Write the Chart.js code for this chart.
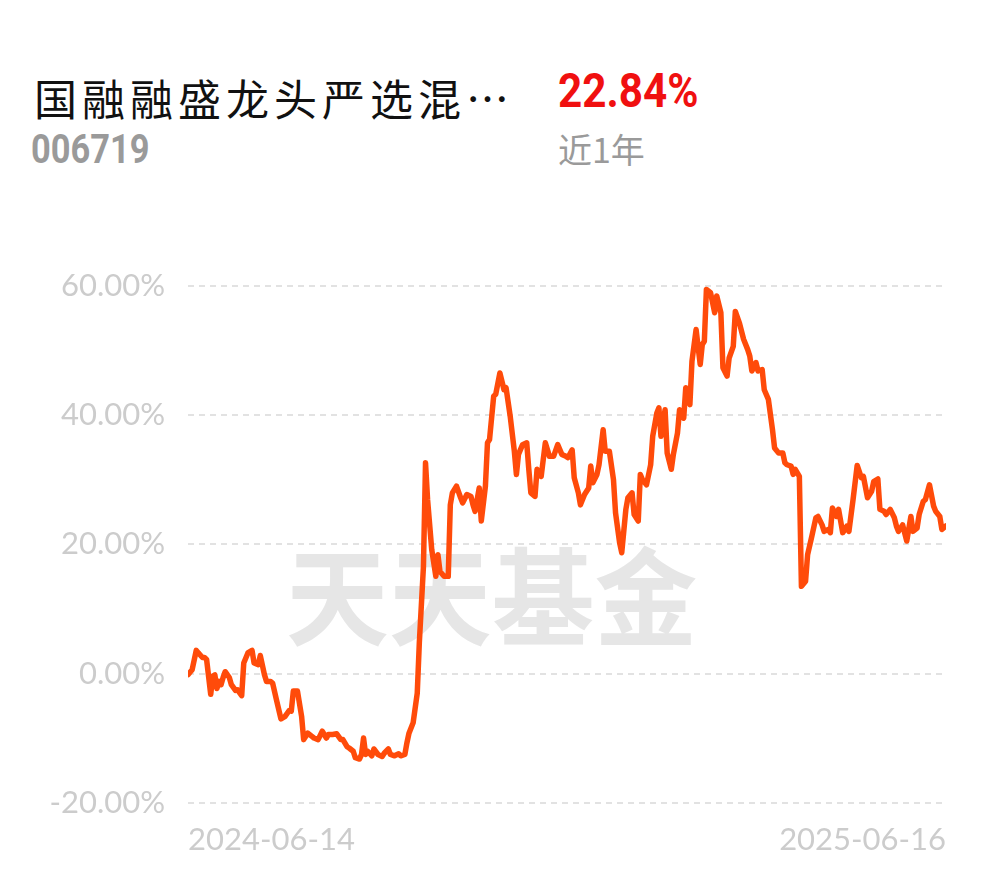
<!DOCTYPE html>
<html>
<head>
<meta charset="utf-8">
<script src="https://cdn.jsdelivr.net/npm/chart.js@4/dist/chart.umd.min.js"></script>
<style>
    html, body { margin: 0; padding: 0; background: #fff; }
    body { width: 990px; height: 877px; position: relative; overflow: hidden; }
    .t { position: absolute; white-space: nowrap; line-height: 1; }
    #name { left: 34px; top: 66px; font: 43px "Noto Sans CJK SC"; letter-spacing: 5px; color: #111; }
    #ret { left: 558px; top: 62px; font: bold 48px Roboto; color: #f01010; transform: scaleX(0.88); transform-origin: left top; }
    #code { left: 31px; top: 126px; font: bold 40px Roboto; color: #9a9a9a; transform: scaleX(0.86); transform-origin: left top; }
    #period { left: 558px; top: 124px; font: 34px "Noto Sans CJK SC"; color: #9a9a9a; }
    #mark { left: 286px; top: 514px; font: bold 106px "Noto Sans CJK SC"; color: #e6e6e6; transform: scaleX(0.97); transform-origin: left top; }
    #wrap { position: absolute; left: 0; top: 244px; width: 990px; height: 633px; }
</style>
</head>
<body>
<div class="t" id="name">国融融盛龙头严选混…</div>
<div class="t" id="ret">22.84%</div>
<div class="t" id="code">006719</div>
<div class="t" id="period">近1年</div>
<div class="t" id="mark">天天基金</div>
<div id="wrap"><canvas id="navChart"></canvas></div>
<script>
// calendar days since 2024-06-14
const days = [
    0, 2, 4, 5, 7, 8, 9, 11, 12, 13, 14, 15, 16, 17, 18, 20, 21, 23, 24, 26,
    27, 29, 31, 32, 34, 35, 37, 38, 40, 41, 43, 45, 47, 49, 50, 51, 53, 55, 56, 58,
    60, 61, 63, 65, 67, 68, 70, 72, 74, 75, 77, 78, 80, 81, 83, 84, 85, 86, 87, 89,
    90, 92, 94, 95, 97, 98, 100, 102, 103, 105, 106, 107, 109, 111, 112, 114, 115, 116, 118, 120,
    121, 122, 124, 126, 127, 128, 130, 132, 133, 135, 137, 138, 139, 141, 142, 144, 145, 146, 148, 149,
    151, 153, 154, 156, 158, 159, 160, 162, 164, 165, 166, 168, 169, 171, 173, 175, 177, 179, 181, 183,
    184, 186, 187, 189, 190, 192, 194, 195, 196, 198, 199, 201, 202, 204, 206, 207, 209, 210, 212, 213,
    215, 216, 218, 219, 220, 222, 224, 225, 227, 228, 229, 231, 232, 234, 235, 237, 238, 240, 241, 243,
    244, 246, 248, 249, 250, 251, 253, 255, 256, 258, 259, 261, 262, 264, 265, 267, 269, 271, 272, 273,
    275, 276, 278, 279, 281, 283, 284, 286, 288, 289, 290, 292, 293, 294, 296, 297, 299, 300, 302, 304,
    305, 307, 308, 310, 311, 312, 314, 315, 317, 319, 320, 322, 324, 326, 327, 329, 331, 332, 334, 335,
    337, 338, 340, 342, 343, 344, 346, 348, 350, 351, 353, 354, 356, 357, 359, 361, 362, 364, 365, 367
];

// cumulative return, %
const returns = [
    -0.15, 0.6, 3.6, 3.2, 2.5, 2.5, 2.2, -3.2, -0.4, -0.2, -2.3, -1.2, -1.7, -0.6, 0.3, -0.6, -1.7, -2.6, -2.5, -3.4,
    1.65, 3.2, 3.6, 1.65, 1.4, 2.8, -0.15, -1.2, -1.2, -1.5, -4.3, -7.0, -6.6, -5.7, -5.8, -2.7, -2.7, -6.6, -10.2, -9.2,
    -9.7, -9.95, -10.2, -8.9, -9.95, -9.4, -9.4, -9.3, -10.2, -10.2, -11.3, -11.5, -12.0, -13.0, -13.2, -12.5, -9.95, -12.5, -12.0, -12.7,
    -11.65, -12.5, -12.8, -12.3, -11.65, -12.5, -12.7, -12.4, -12.7, -12.5, -10.7, -9.2, -7.6, -3.0, 4.75, 16.6, 32.6, 26.9, 19.2, 15.05,
    18.4, 15.8, 15.05, 15.05, 26.1, 27.95, 29.0, 27.2, 26.4, 27.7, 27.4, 26.1, 25.1, 28.7, 23.6, 29.0, 35.7, 36.2, 42.9, 43.2,
    46.5, 43.9, 44.2, 39.8, 34.4, 30.8, 33.9, 35.4, 35.7, 31.6, 27.95, 27.4, 31.6, 30.5, 35.7, 33.6, 33.6, 35.4, 33.9, 33.6,
    33.4, 34.6, 30.3, 27.95, 26.1, 27.7, 28.7, 32.1, 29.5, 30.8, 32.3, 37.7, 34.4, 34.4, 30.0, 24.85, 20.2, 18.7, 25.4, 27.2,
    27.95, 24.6, 23.6, 30.8, 30.0, 29.2, 32.3, 36.7, 40.3, 41.1, 36.7, 40.8, 34.1, 31.6, 33.9, 37.2, 40.8, 39.5, 44.2, 41.6,
    48.3, 53.2, 47.8, 50.9, 51.4, 59.4, 58.9, 55.8, 58.4, 55.8, 47.3, 46.0, 48.8, 50.6, 56.0, 54.2, 51.7, 50.1, 49.1, 46.8,
    48.1, 46.8, 47.0, 43.9, 42.4, 37.7, 34.9, 34.1, 34.1, 32.6, 32.3, 32.1, 30.8, 31.6, 30.5, 13.5, 14.3, 18.4, 21.2, 24.1,
    24.3, 23.0, 22.0, 22.3, 21.8, 25.6, 24.3, 25.4, 21.8, 22.8, 22.0, 26.9, 32.2, 30.3, 30.5, 27.2, 28.2, 29.7, 30.1, 25.4,
    25.1, 24.6, 25.4, 24.1, 22.8, 22.0, 23.0, 20.5, 24.3, 22.0, 22.5, 24.6, 26.65, 26.9, 29.2, 25.9, 25.1, 24.3, 22.3, 22.84
];

const xTickLabels = ['2024-06-14', '2025-06-16'];
const xTickDays = [0, 367];

const ctx = document.getElementById('navChart').getContext('2d');
new Chart(ctx, {
    type: 'line',
    data: {
        datasets: [{
            data: days.map((d, i) => ({ x: d, y: returns[i] })),
            borderColor: '#ff4b0a',
            borderWidth: 5.5,
            borderJoinStyle: 'round',
            borderCapStyle: 'round',
            pointRadius: 0,
            tension: 0,
            fill: false
        }]
    },
    options: {
        responsive: true,
        maintainAspectRatio: false,
        animation: false,
        layout: { padding: { top: 30, right: 44, left: 0, bottom: 0 } },
        plugins: { legend: { display: false }, tooltip: { enabled: false } },
        scales: {
            x: {
                type: 'linear',
                min: 0,
                max: 367,
                afterBuildTicks: s => { s.ticks = xTickDays.map(v => ({ value: v })); },
                afterFit: s => { s.height = 74; },
                grid: { display: false },
                border: { display: false },
                ticks: {
                    align: 'inner',
                    maxRotation: 0,
                    padding: 10,
                    color: '#cccccc',
                    font: { family: 'Lato', size: 31 },
                    callback: (v, i) => xTickLabels[i]
                }
            },
            y: {
                min: -20,
                max: 60,
                afterFit: s => { s.width = 188; },
                grid: {
                    color: '#e2e2e2',
                    lineWidth: 2,
                    drawTicks: false
                },
                border: { display: false, dash: [6, 5] },
                ticks: {
                    stepSize: 20,
                    padding: 23,
                    color: '#cccccc',
                    font: { family: 'Lato', size: 31 },
                    callback: v => v.toFixed(2) + '%'
                }
            }
        }
    }
});
</script>
</body>
</html>
